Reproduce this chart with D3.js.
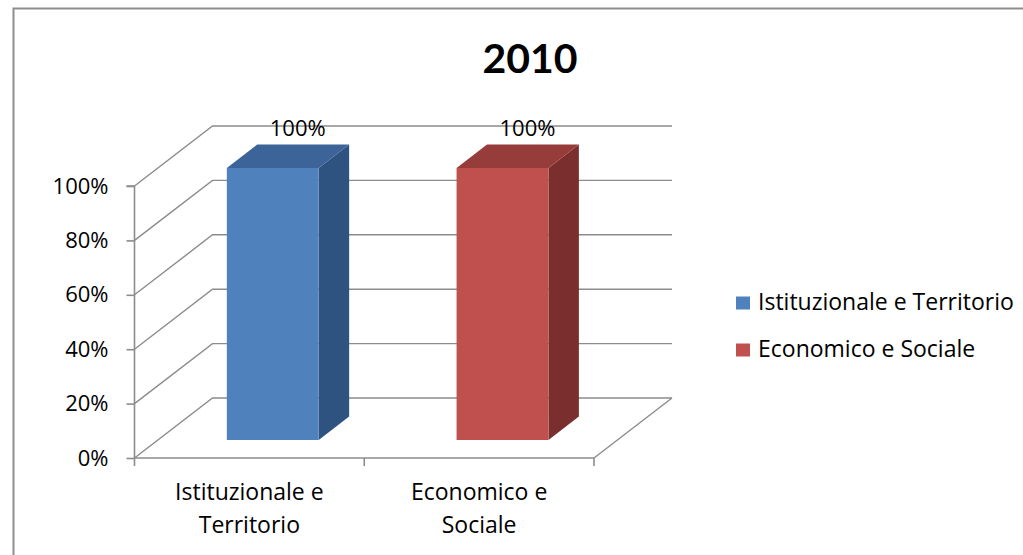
<!DOCTYPE html>
<html><head><meta charset="utf-8">
<script src="https://cdn.jsdelivr.net/npm/d3@7"></script>
<style>html,body{margin:0;padding:0;background:#fff}svg{display:block}text{font-family:"Open Sans",Lato,sans-serif;fill:#000}</style>
</head><body>
<svg id="c" width="1023" height="555"></svg>
<script>
const title = "2010";
const categories = ["Istituzionale e Territorio", "Economico e Sociale"];
const categoryLines = [["Istituzionale e", "Territorio"], ["Economico e", "Sociale"]];
const values = [1.0, 1.0];
const valueLabels = ["100%", "100%"];
const yTicks = [0, 0.2, 0.4, 0.6, 0.8, 1.0];
const yTickLabels = ["0%", "20%", "40%", "60%", "80%", "100%"];
const frontColors = ["#4f81bd", "#c0504d"];
const topColors = ["#3c6498", "#963d3b"];
const sideColors = ["#2f5381", "#7a2f2e"];

const FS = "23px", NS = "22px";
const svg = d3.select("#c");
const W = 1023, H = 555;
svg.append("rect").attr("x", 13.5).attr("y", 8.5).attr("width", W + 10).attr("height", H + 10)
  .attr("fill", "#fff").attr("stroke", "#8e8e8e").attr("stroke-width", 2);

const x = d3.scaleBand().domain(categories).range([134.5, 594]).paddingInner(0).paddingOuter(0);
const y = d3.scaleLinear().domain([0, 1]).range([458, 186]);
const DX = 78, DY = -60;
const P = (px, py, z) => [px + z * DX, py + z * DY];
const grid = "#8c8c8c";

const g = svg.append("g");
yTicks.forEach(t => {
  const yy = y(t);
  const a = P(x.range()[0], yy, 0), b = P(x.range()[0], yy, 1), c = P(x.range()[1], yy, 1);
  g.append("polyline").attr("points", [a, b, c].map(p => p.join(",")).join(" "))
    .attr("fill", "none").attr("stroke", grid).attr("stroke-width", 1.4);
});
{
  const a = P(x.range()[1], y(0), 0), b = P(x.range()[1], y(0), 1);
  g.append("line").attr("x1", a[0]).attr("y1", a[1]).attr("x2", b[0]).attr("y2", b[1])
    .attr("stroke", grid).attr("stroke-width", 1.4);
}
const yAxis = d3.axisLeft(y).tickValues(yTicks).tickFormat((d, i) => yTickLabels[i]).tickSize(8).tickPadding(18);
const ya = svg.append("g").attr("transform", `translate(${x.range()[0]},0)`).call(yAxis);
ya.select(".domain").attr("stroke", grid).attr("stroke-width", 1.6).attr("d", `M-8,${y(1)}H0V${y(0)}`);
ya.selectAll(".tick line").attr("stroke", grid).attr("stroke-width", 1.6);
ya.selectAll(".tick text").style("font-family", "'Open Sans'").style("font-size", NS).attr("fill", "#000");

const xa = svg.append("g").attr("transform", `translate(0,${y(0)})`);
xa.append("line").attr("x1", x.range()[0]).attr("x2", x.range()[1]).attr("stroke", grid).attr("stroke-width", 1.6);
const bounds = [x.range()[0], ...categories.map(c => x(c) + x.bandwidth())];
bounds.forEach(b => xa.append("line").attr("x1", b).attr("x2", b).attr("y1", 0).attr("y2", 8)
  .attr("stroke", grid).attr("stroke-width", 1.6));
categories.forEach((c, i) => {
  const t = xa.append("text").attr("x", x(c) + x.bandwidth() / 2).attr("text-anchor", "middle")
    .style("font-size", FS);
  categoryLines[i].forEach((ln, j) => t.append("tspan").attr("x", x(c) + x.bandwidth() / 2).attr("y", 42 + j * 33).text(ln));
});

const z0 = 0.3, z1 = 0.69, barFrac = 0.4;
categories.forEach((c, i) => {
  const bw = x.bandwidth() * barFrac;
  const xl = x(c) + (x.bandwidth() - bw) / 2, xr = xl + bw;
  const yb = y(0), yt = y(values[i]);
  const pts = (arr) => arr.map(p => p.join(",")).join(" ");
  const f = [P(xl, yt, z0), P(xr, yt, z0), P(xr, yb, z0), P(xl, yb, z0)];
  const s = [P(xr, yt, z0), P(xr, yt, z1), P(xr, yb, z1), P(xr, yb, z0)];
  const tp = [P(xl, yt, z0), P(xl, yt, z1), P(xr, yt, z1), P(xr, yt, z0)];
  g.append("polygon").attr("points", pts(s)).attr("fill", sideColors[i]);
  g.append("polygon").attr("points", pts(tp)).attr("fill", topColors[i]);
  g.append("polygon").attr("points", pts(f)).attr("fill", frontColors[i]);
  const lp = P((xl + xr) / 2, yt, 0.62);
  g.append("text").attr("x", lp[0]).attr("y", P(0, yt, z1)[1] - 9).attr("text-anchor", "middle")
    .style("font-size", NS).text(valueLabels[i]);
});

svg.append("text").attr("x", 530).attr("y", 73).attr("text-anchor", "middle")
  .style("font-family", "Lato").style("font-size", "41px").style("font-weight", "bold").text(title);

const lg = svg.append("g");
categories.forEach((c, i) => {
  const yy = 303 + i * 47;
  lg.append("rect").attr("x", 736).attr("y", yy - 6.5).attr("width", 14).attr("height", 13).attr("fill", frontColors[i]);
  lg.append("text").attr("x", 758).attr("y", yy + 7).style("font-size", FS).text(c);
});
</script>
</body></html>
